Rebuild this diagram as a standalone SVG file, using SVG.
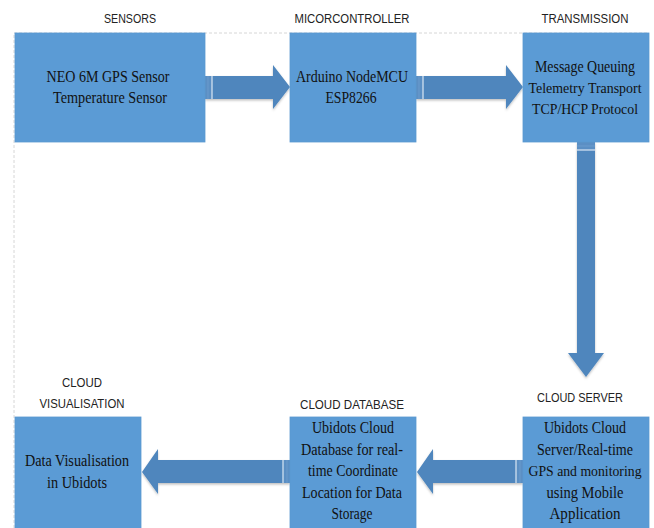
<svg xmlns="http://www.w3.org/2000/svg" width="654" height="528" viewBox="0 0 654 528">
<defs>
<style>
.box{fill:#5b9bd5;stroke:#5a98d0;stroke-width:0.8}
.arr{fill:#4f86bd}
.band{fill:#5b8fc4}
.gap{stroke:#dbe7f3;stroke-width:1.2}
.lbl{font-family:"Liberation Sans",Arial,sans-serif;font-size:12.5px;fill:#222;text-anchor:middle}
.txt{font-family:"Liberation Serif","Times New Roman",serif;font-size:16.5px;fill:#111;text-anchor:middle}
.txt.sm{font-size:15px}
.outline{fill:none;stroke:#d6d6d6;stroke-width:1;stroke-dasharray:3 2}
</style>
<filter id="sh" x="-10%" y="-10%" width="120%" height="130%">
<feDropShadow dx="0" dy="1.5" stdDeviation="1.2" flood-color="#000" flood-opacity="0.25"/>
</filter>
</defs>
<rect width="654" height="528" fill="#fff"/>
<path class="outline" d="M14,528 V33 H649"/>

<g id="connectors">
<g filter="url(#sh)">
<path class="arr" d="M205,76 H273 V65 L290,87 L273,109 V99 H205 Z"/>
<path class="arr" d="M416,76 H506 V65 L523,87 L506,109 V99 H416 Z"/>
<path class="arr" d="M577,142 V353 H568 L586,377 L604,353 H595 V142 Z"/>
<path class="arr" d="M523,460 H433 V449 L417,472 L433,494 V483 H523 Z"/>
<path class="arr" d="M290,460 H158 V449 L142,472 L158,494 V483 H290 Z"/>
</g>
<rect class="band" x="205" y="76" width="7" height="23"/>
<line class="gap" x1="212" y1="76" x2="212" y2="99"/>
<line stroke="#6f9fd0" stroke-width="0.8" x1="208" y1="76" x2="208" y2="99"/>
<rect class="band" x="416" y="76" width="7" height="23"/>
<line class="gap" x1="423" y1="76" x2="423" y2="99"/>
<line stroke="#6f9fd0" stroke-width="0.8" x1="419" y1="76" x2="419" y2="99"/>
<rect class="band" x="577" y="142" width="18" height="8"/>
<line class="gap" x1="577" y1="150" x2="595" y2="150"/>
<line stroke="#6f9fd0" stroke-width="0.8" x1="577" y1="146" x2="595" y2="146"/>
<rect class="band" x="516" y="460" width="7" height="23"/>
<line class="gap" x1="516" y1="460" x2="516" y2="483"/>
<line stroke="#6f9fd0" stroke-width="0.8" x1="520" y1="460" x2="520" y2="483"/>
<rect class="band" x="283" y="460" width="7" height="23"/>
<line class="gap" x1="283" y1="460" x2="283" y2="483"/>
<line stroke="#6f9fd0" stroke-width="0.8" x1="287" y1="460" x2="287" y2="483"/>
</g>

<g id="sensors">
<text class="lbl" x="130" y="23" textLength="52" lengthAdjust="spacingAndGlyphs">SENSORS</text>
<rect class="box" x="15" y="33" width="190" height="109"/>
<text class="txt" x="108" y="82" textLength="123" lengthAdjust="spacingAndGlyphs">NEO 6M GPS Sensor</text>
<text class="txt" x="110" y="103" textLength="114" lengthAdjust="spacingAndGlyphs">Temperature Sensor</text>
</g>

<g id="microcontroller">
<text class="lbl" x="352" y="23" textLength="115" lengthAdjust="spacingAndGlyphs">MICORCONTROLLER</text>
<rect class="box" x="290" y="33" width="126" height="109"/>
<text class="txt" x="352" y="82" textLength="112" lengthAdjust="spacingAndGlyphs">Arduino NodeMCU</text>
<text class="txt" x="351" y="103" textLength="51" lengthAdjust="spacingAndGlyphs">ESP8266</text>
</g>

<g id="transmission">
<text class="lbl" x="585" y="23" textLength="87" lengthAdjust="spacingAndGlyphs">TRANSMISSION</text>
<rect class="box" x="523" y="33" width="126" height="109"/>
<text class="txt" x="585" y="72" textLength="100" lengthAdjust="spacingAndGlyphs">Message Queuing</text>
<text class="txt sm" x="585" y="93" textLength="113" lengthAdjust="spacingAndGlyphs">Telemetry Transport</text>
<text class="txt sm" x="585" y="114" textLength="106" lengthAdjust="spacingAndGlyphs">TCP/HCP Protocol</text>
</g>

<g id="cloud-server">
<text class="lbl" x="580" y="402" textLength="86" lengthAdjust="spacingAndGlyphs">CLOUD SERVER</text>
<rect class="box" x="523" y="417" width="126" height="112"/>
<text class="txt" x="585" y="433" textLength="82" lengthAdjust="spacingAndGlyphs">Ubidots Cloud</text>
<text class="txt" x="585" y="454.5" textLength="96" lengthAdjust="spacingAndGlyphs">Server/Real-time</text>
<text class="txt sm" x="585" y="476" textLength="113" lengthAdjust="spacingAndGlyphs">GPS and monitoring</text>
<text class="txt" x="585" y="497.5" textLength="77" lengthAdjust="spacingAndGlyphs">using Mobile</text>
<text class="txt" x="585" y="519" textLength="71" lengthAdjust="spacingAndGlyphs">Application</text>
</g>

<g id="cloud-database">
<text class="lbl" x="352" y="409" textLength="104" lengthAdjust="spacingAndGlyphs">CLOUD DATABASE</text>
<rect class="box" x="290" y="417" width="126" height="112"/>
<text class="txt" x="353" y="433" textLength="82" lengthAdjust="spacingAndGlyphs">Ubidots Cloud</text>
<text class="txt" x="352" y="454.5" textLength="102" lengthAdjust="spacingAndGlyphs">Database for real-</text>
<text class="txt" x="353" y="476" textLength="90" lengthAdjust="spacingAndGlyphs">time Coordinate</text>
<text class="txt" x="352" y="497.5" textLength="100" lengthAdjust="spacingAndGlyphs">Location for Data</text>
<text class="txt" x="352" y="519" textLength="41" lengthAdjust="spacingAndGlyphs">Storage</text>
</g>

<g id="cloud-visualisation">
<text class="lbl" x="82" y="387" textLength="40" lengthAdjust="spacingAndGlyphs">CLOUD</text>
<text class="lbl" x="82" y="408" textLength="85" lengthAdjust="spacingAndGlyphs">VISUALISATION</text>
<rect class="box" x="15" y="417" width="126" height="112"/>
<text class="txt" x="77" y="466" textLength="104" lengthAdjust="spacingAndGlyphs">Data Visualisation</text>
<text class="txt" x="77" y="488" textLength="60" lengthAdjust="spacingAndGlyphs">in Ubidots</text>
</g>
</svg>
